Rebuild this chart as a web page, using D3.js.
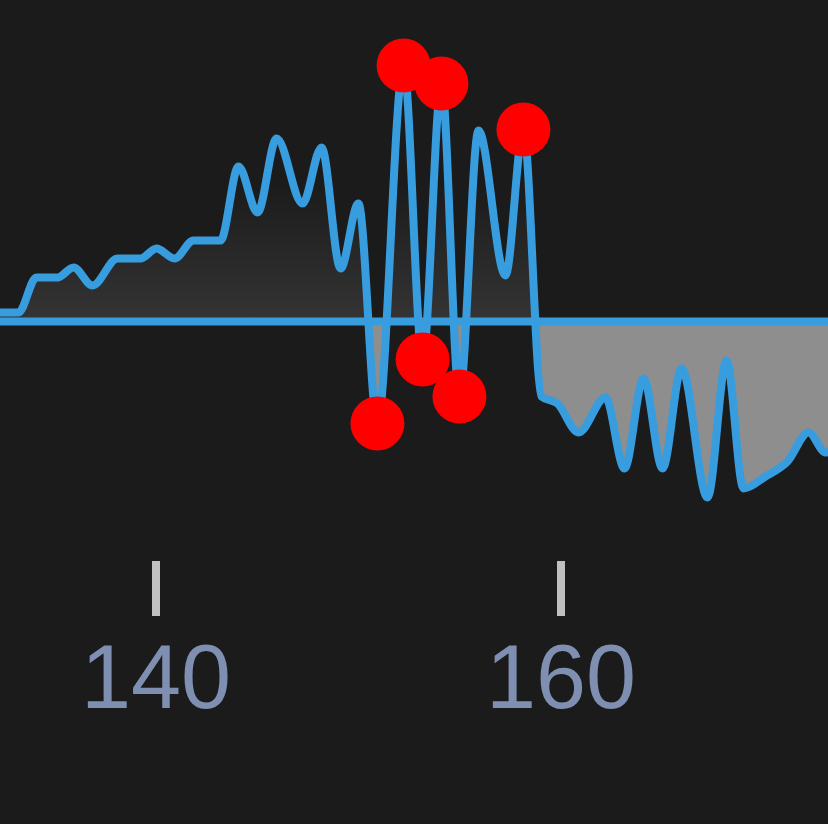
<!DOCTYPE html>
<html>
<head>
<meta charset="utf-8">
<script src="https://cdn.jsdelivr.net/npm/d3@7"></script>
<style>
  html, body { margin: 0; padding: 0; background: #1b1b1b; }
  svg { display: block; }
</style>
</head>
<body>
<script>
// ---- data ----
const xValues = [132.10, 133.23, 134.12, 135.16, 135.95, 136.89, 138.12, 139.26, 140.05, 140.94,
  141.88, 143.21, 144.10, 145.04, 145.98, 147.26, 148.20, 149.14, 150.02, 150.96,
  152.25, 153.19, 154.12, 155.01, 155.95, 157.28, 158.17, 159.06, 159.85, 160.89,
  162.22, 163.16, 164.10, 165.04, 165.98, 167.26, 168.20, 169.04, 170.12, 171.21,
  172.25, 173.09, 174.07];
const yValues = [3.6, 3.6, 17.6, 17.6, 21.6, 14.4, 25.2, 25.2, 29.2, 25.2,
  32.4, 32.4, 62.0, 43.6, 73.2, 47.2, 69.6, 21.2, 47.2, -40.8,
  102.4, -15.2, 95.2, -30.0, 76.4, 18.4, 76.8, -30.0, -32.8, -44.4,
  -30.4, -58.8, -22.8, -58.8, -18.8, -70.4, -15.6, -66.8, -62.0, -56.0,
  -44.4, -52.4, -43.6];
const highlightedX = [150.96, 152.25, 153.19, 154.12, 155.01, 158.17];
const tickValues = [140, 160];

const data = xValues.map((x, i) => ({ x, y: yValues[i] }));
const dots = data.filter(d => highlightedX.includes(d.x));

const W = 828, H = 824;
const svg = d3.select("body").append("svg").attr("width", W).attr("height", H);
svg.append("rect").attr("width", W).attr("height", H).attr("fill", "#1b1b1b");

const x = d3.scaleLinear().domain([140, 160]).range([155.5, 560.5]);
const y = d3.scaleLinear().domain([-100, 100]).range([571.5, 71.5]);
const y0 = y(0);

const defs = svg.append("defs");
const grad = defs.append("linearGradient").attr("id", "upGrad")
  .attr("gradientUnits", "userSpaceOnUse")
  .attr("x1", 0).attr("x2", 0).attr("y1", y(56)).attr("y2", y0);
grad.append("stop").attr("offset", "0%").attr("stop-color", "#1b1b1b");
grad.append("stop").attr("offset", "100%").attr("stop-color", "#343434");

defs.append("clipPath").attr("id", "clipUp").append("rect")
  .attr("x", 0).attr("y", 0).attr("width", W).attr("height", y0);
defs.append("clipPath").attr("id", "clipDown").append("rect")
  .attr("x", 0).attr("y", y0).attr("width", W).attr("height", H - y0);

const curve = d3.curveMonotoneX;
const area = d3.area().x(d => x(d.x)).y0(y0).y1(d => y(d.y)).curve(curve);
const line = d3.line().x(d => x(d.x)).y(d => y(d.y)).curve(curve);

svg.append("path").datum(data).attr("d", area)
  .attr("fill", "url(#upGrad)").attr("clip-path", "url(#clipUp)");
svg.append("path").datum(data).attr("d", area)
  .attr("fill", "#8e8e8e").attr("clip-path", "url(#clipDown)");

// baseline
svg.append("line").attr("x1", 0).attr("x2", W).attr("y1", y0).attr("y2", y0)
  .attr("stroke", "#379ddf").attr("stroke-width", 8);

svg.append("path").datum(data).attr("d", line)
  .attr("fill", "none").attr("stroke", "#379ddf").attr("stroke-width", 8)
  .attr("stroke-linejoin", "round").attr("stroke-linecap", "round");

svg.selectAll("circle.dot").data(dots).enter().append("circle")
  .attr("class", "dot")
  .attr("cx", d => x(d.x)).attr("cy", d => y(d.y)).attr("r", 27)
  .attr("fill", "#ff0000");

// axis
const axis = d3.axisBottom(x).tickValues(tickValues).tickSize(55).tickPadding(28)
  .tickFormat(d3.format("d"));
const gAxis = svg.append("g").attr("transform", "translate(0,561)").call(axis);
gAxis.select(".domain").remove();
gAxis.selectAll(".tick line").attr("stroke", "#c0c0c0").attr("stroke-width", 8);
gAxis.selectAll(".tick text")
  .attr("fill", "#7f8fb1")
  .attr("font-family", "Liberation Sans, Arial, sans-serif")
  .attr("font-size", 90)
  .attr("dy", "0.71em");
</script>
</body>
</html>
